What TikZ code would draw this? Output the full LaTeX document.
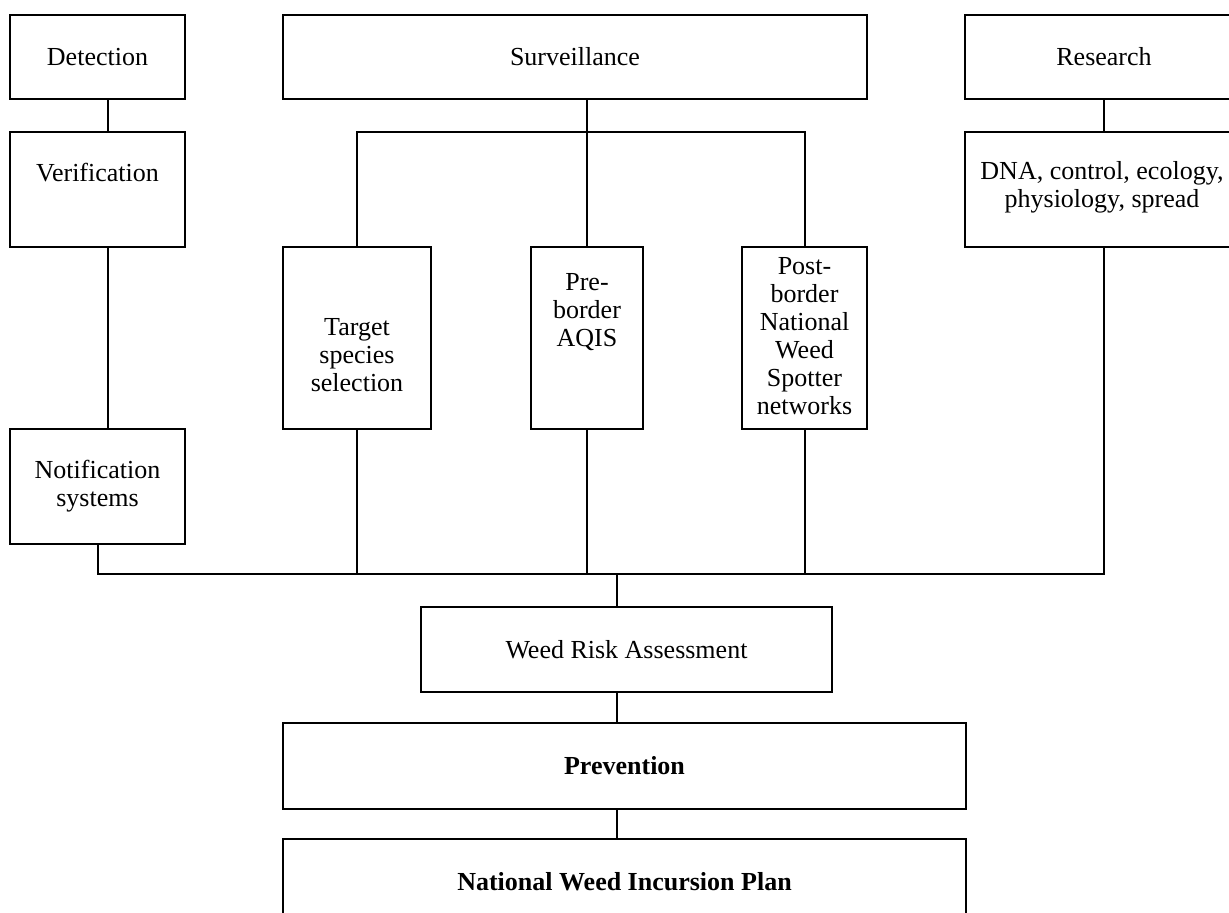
\documentclass[tikz,border=0pt]{standalone}
\usepackage{fontspec}
\setmainfont{Liberation Serif}
\begin{document}
\begin{tikzpicture}[x=0.5pt,y=-0.5pt,
  bx/.style={draw, line width=1pt, rectangle, inner sep=0pt},
  tx/.style={align=center, inner sep=0pt, font=\fontsize{13}{14}\selectfont},
  btx/.style={tx, font=\fontsize{13}{14}\selectfont\bfseries},
  ln/.style={line width=1pt}]
\useasboundingbox (0,0) rectangle (1229,912);
\clip (0,0) rectangle (1229,912);
% top row
\node[bx, tx, minimum width=87.5pt, minimum height=42pt] (det) at (97.5,57) {Detection};
\node[bx, tx, minimum width=292pt, minimum height=42pt] (sur) at (575,57) {Surveillance};
\node[bx, tx, minimum width=139pt, minimum height=42pt] (res) at (1104,57) {Research};
% second row
\node[bx, minimum width=87.5pt, minimum height=57.5pt] (ver) at (97.5,189.5) {};
\node[tx] (vert) at (97.5,173) {Verification};
\node[bx, minimum width=139pt, minimum height=57.5pt] (dna) at (1104,189.5) {};
\node[tx] (dnat) at (1102,187) {DNA, control, ecology,\\physiology, spread};
% surveillance branches
\node[bx, minimum width=74pt, minimum height=91pt] (tar) at (357,338) {};
\node[tx] (tart) at (357,355) {Target\\species\\selection};
\node[bx, minimum width=56pt, minimum height=91pt] (pre) at (587,338) {};
\node[tx] (pret) at (587,312) {Pre-\\border\\AQIS};
\node[bx, minimum width=62.5pt, minimum height=91pt] (pos) at (804.5,338) {};
\node[tx] (post) at (804.5,336) {Post-\\border\\National\\Weed\\Spotter\\networks};
% notification
\node[bx, tx, minimum width=87.5pt, minimum height=57.5pt] (not) at (97.5,486.5) {Notification\\systems};
% lower chain
\node[bx, tx, minimum width=205.5pt, minimum height=42.5pt] (wra) at (626.5,649.5) {Weed Risk Assessment};
\node[bx, btx, minimum width=341.5pt, minimum height=43pt] (prv) at (624.5,766) {Prevention};
\node[bx, btx, minimum width=341.5pt, minimum height=43pt] (nwi) at (624.5,882) {National Weed Incursion Plan};
% helper coordinates
\coordinate (vl) at (108,0);
\coordinate (br) at (587,132);
\coordinate (bus) at (617,574);
% connectors
\draw[ln] (det.south -| vl) -- (ver.north -| vl);
\draw[ln] (ver.south -| vl) -- (not.north -| vl);
\draw[ln] (res.south) -- (dna.north);
\draw[ln] (sur.south -| pre.north) -- (pre.north);
\draw[ln] (tar.north) |- (br) -| (pos.north);
\draw[ln] (not.south) |- (bus) -| (dna.south);
\draw[ln] (tar.south) -- (tar.south |- bus);
\draw[ln] (pre.south) -- (pre.south |- bus);
\draw[ln] (pos.south) -- (pos.south |- bus);
\draw[ln] (bus) -- (wra.north -| bus);
\draw[ln] (wra.south -| bus) -- (prv.north -| bus);
\draw[ln] (prv.south -| bus) -- (nwi.north -| bus);
\end{tikzpicture}
\end{document}
